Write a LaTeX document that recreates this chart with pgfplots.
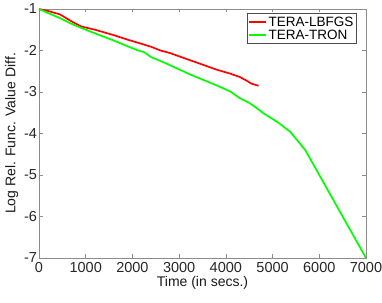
\documentclass[border=0pt]{standalone}
\usepackage{fontspec}
\setmainfont{Liberation Sans}
\usepackage{pgfplots}
\pgfplotsset{compat=1.18}
\begin{document}
\begin{tikzpicture}
\begin{axis}[
  at={(0,0)}, anchor=south west,
  scale only axis,
  width=327pt, height=249pt,
  xmin=0, xmax=7000, ymin=-7, ymax=-1,
  xtick={0,1000,...,7000},
  ytick={-7,-6,...,-1},
  scaled x ticks=false,
  /pgf/number format/assume math mode=true,
  /pgf/number format/set thousands separator={},
  tick align=inside,
  major tick length=3.5pt,
  axis line style={draw=black!45, line width=0.6pt},
  tick style={draw=black!45, line width=0.6pt},
  tick label style={font=\fontsize{14.5}{16}\selectfont, text=black!85},
  xticklabel style={yshift=-1pt},
  yticklabel style={xshift=1.5pt},
  label style={font=\fontsize{14}{16}\selectfont, text=black!90},
  xlabel={Time (in secs.)},
  ylabel={Log Rel. Func. Value Diff.},
  xlabel style={yshift=3pt},
  ylabel style={yshift=-1pt},
  legend style={at={(0.635,0.982)}, anchor=north west, draw=black!70, line width=0.5pt,
    font=\fontsize{13.5}{15}\selectfont, inner sep=1pt, row sep=-2pt,
    legend cell align=left},
]
\addplot[color=red, line width=1.7pt] coordinates {
(0,-1.0) (200,-1.05) (450,-1.13) (700,-1.30) (900,-1.42) (1200,-1.50)
(1600,-1.63) (1900,-1.74) (2200,-1.84) (2400,-1.91) (2600,-2.00) (2800,-2.06)
(3100,-2.18) (3400,-2.30) (3800,-2.46) (4100,-2.56) (4300,-2.64) (4450,-2.73)
(4550,-2.80) (4700,-2.85)
};
\addlegendentry{TERA-LBFGS}
\addplot[color=green, line width=1.7pt] coordinates {
(0,-1.0) (200,-1.10) (450,-1.22) (700,-1.36) (1000,-1.50) (1300,-1.63)
(1600,-1.76) (1900,-1.90) (2100,-1.99) (2250,-2.04) (2400,-2.16) (2700,-2.30)
(2950,-2.43) (3200,-2.56) (3500,-2.70) (3800,-2.84) (4100,-2.99) (4300,-3.15)
(4500,-3.26) (4700,-3.42) (4800,-3.51) (5100,-3.72) (5380,-3.96) (5700,-4.40)
(7000,-7.0)
};
\addlegendentry{TERA-TRON}
\end{axis}
\pgfresetboundingbox
\path[use as bounding box] (-39pt,-44pt) rectangle (343pt,258pt);
\end{tikzpicture}
\end{document}
